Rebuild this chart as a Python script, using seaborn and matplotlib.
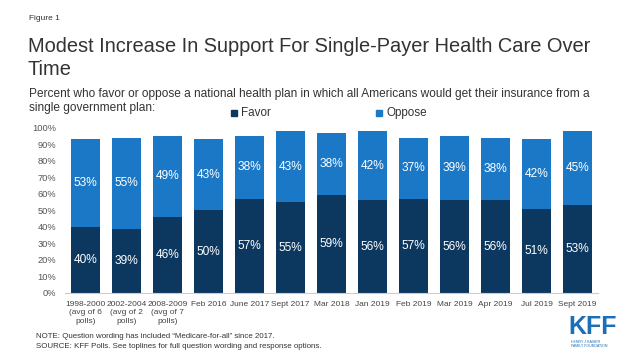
import pandas as pd
import numpy as np
import matplotlib
matplotlib.use("Agg")
import matplotlib.pyplot as plt
from matplotlib.patches import Rectangle
import seaborn as sns

# data
periods = ["1998-2000\n(avg of 6\npolls)", "2002-2004\n(avg of 2\npolls)", "2008-2009\n(avg of 7\npolls)",
           "Feb 2016", "June 2017", "Sept 2017", "Mar 2018", "Jan 2019", "Feb 2019",
           "Mar 2019", "Apr 2019", "Jul 2019", "Sept 2019"]
favor = [40, 39, 46, 50, 57, 55, 59, 56, 57, 56, 56, 51, 53]
oppose = [53, 55, 49, 43, 38, 43, 38, 42, 37, 39, 38, 42, 45]

favor_color = "#0c3860"
oppose_color = "#1b78c6"
text_color = "#333333"

df = pd.DataFrame({"Period": periods, "Favor": favor, "Oppose": oppose})
df["Total"] = df["Favor"] + df["Oppose"]

sns.set_style("white")
plt.rcParams["font.family"] = ["Liberation Sans", "DejaVu Sans"]

W, H = 638, 359
fig = plt.figure(figsize=(W / 100, H / 100), dpi=100)
ax = fig.add_axes([65 / W, 1 - 293 / H, 533 / W, 165.3 / H])

# stacked bars: total (oppose on top) drawn first, favor over it
sns.barplot(data=df, x="Period", y="Total", color=oppose_color, width=0.707,
            saturation=1, ax=ax, edgecolor="none")
sns.barplot(data=df, x="Period", y="Favor", color=favor_color, width=0.707,
            saturation=1, ax=ax, edgecolor="none")

for i, (f, o) in enumerate(zip(favor, oppose)):
    ax.text(i, f / 2, f"{f}%", color="white", ha="center", va="center", fontsize=8.6)
    ax.text(i, f + o / 2, f"{o}%", color="white", ha="center", va="center", fontsize=8.6)

ax.set_ylim(0, 100)
ax.set_xlim(-0.5, len(periods) - 0.5)
ax.set_yticks(range(0, 101, 10))
ax.set_yticklabels([f"{v}%" for v in range(0, 101, 10)])
ax.tick_params(axis="y", labelsize=6.7, colors="#555555", length=0, pad=6.5)
ax.tick_params(axis="x", labelsize=6, colors="#444444", length=0, pad=5.5)
ax.set_xlabel("")
ax.set_ylabel("")
for s in ["top", "right", "left"]:
    ax.spines[s].set_visible(False)
ax.spines["bottom"].set_color("#cccccc")
ax.spines["bottom"].set_linewidth(0.8)
for lab in ax.get_xticklabels():
    lab.set_linespacing(1.3)

# header text
fig.text(29 / W, 1 - 19 / H, "Figure 1", fontsize=6, color=text_color, va="center")
fig.text(28 / W, 1 - 52 / H, "Modest Increase In Support For Single-Payer Health Care Over",
         fontsize=14.4, color=text_color, va="baseline")
fig.text(28 / W, 1 - 75 / H, "Time", fontsize=14.4, color=text_color, va="baseline")
fig.text(29 / W, 1 - 96.5 / H,
         "Percent who favor or oppose a national health plan in which all Americans would get their insurance from a",
         fontsize=8.55, color=text_color, va="baseline")
fig.text(29 / W, 1 - 111.5 / H, "single government plan:", fontsize=8.55, color=text_color, va="baseline")

# legend
for x0, c, lab in [(231, favor_color, "Favor"), (376, oppose_color, "Oppose")]:
    fig.patches.append(Rectangle((x0 / W, 1 - 116 / H), 6 / W, 6 / H, color=c,
                                 transform=fig.transFigure, figure=fig))
    fig.text((x0 + 10) / W, 1 - 113 / H, lab, fontsize=8.4, color=text_color, va="center")

# notes
fig.text(36 / W, 1 - 336 / H, "NOTE: Question wording has included \u201cMedicare-for-all\u201d since 2017.",
         fontsize=5.7, color=text_color, va="center")
fig.text(36 / W, 1 - 346 / H, "SOURCE: KFF Polls. See toplines for full question wording and response options.",
         fontsize=5.7, color=text_color, va="center")

# logo
fig.text(592.5 / W, 1 - 334 / H, "KFF", fontsize=18, fontweight="bold", color="#1b6fb8",
         ha="center", va="baseline", family=["Liberation Sans Narrow", "Liberation Sans"])
fig.text(571 / W, 1 - 344 / H, "HENRY J KAISER\nFAMILY FOUNDATION", fontsize=2.6, color="#1b6fb8",
         ha="left", va="center", linespacing=1.3)

fig.savefig("out.png", dpi=100)
